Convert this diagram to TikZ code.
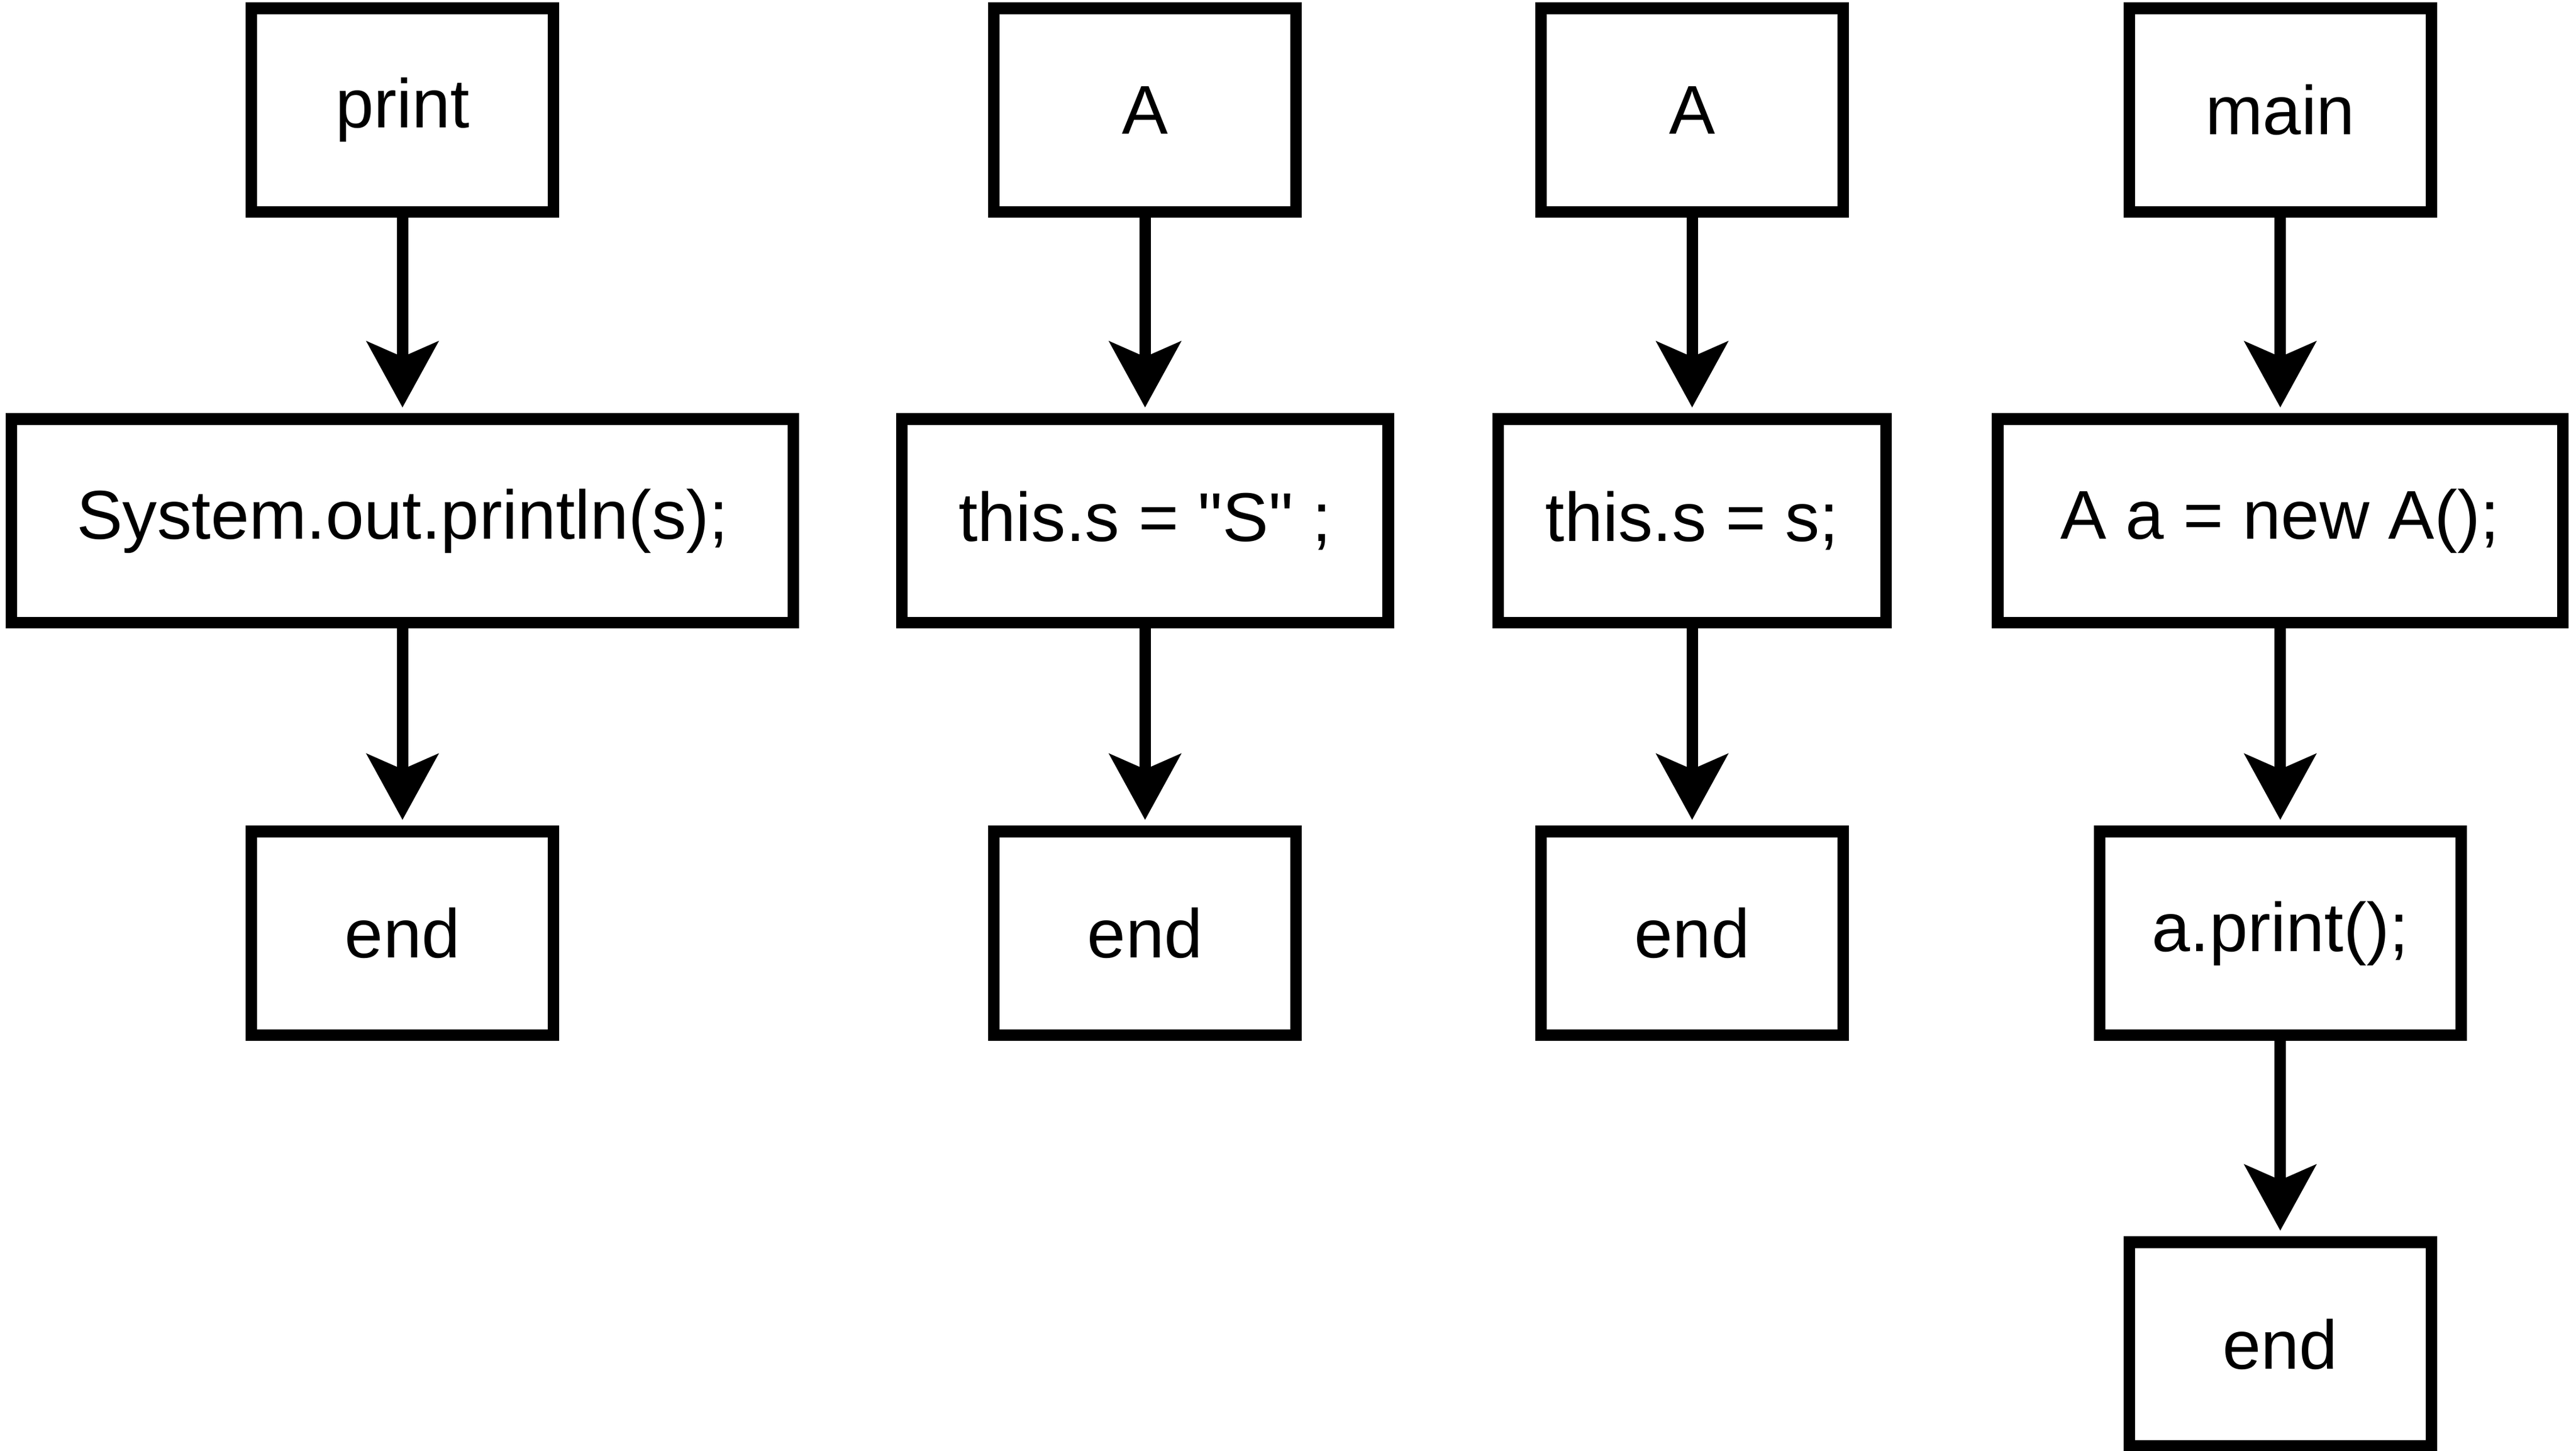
\documentclass[tikz,border=0pt]{standalone}
\usepackage{fontspec}
\setmainfont{Liberation Sans}[Ligatures=TeXOff]
\usetikzlibrary{arrows.meta}

\begin{document}
\begin{tikzpicture}[x=0.25pt, y=-0.25pt,
    block/.style={draw, line width=1.75pt, minimum height=31pt, inner sep=0pt,
        font=\fontsize{10.5}{12}\selectfont},
    flow/.style={-{Stealth[length=10pt, width=10.8pt, inset=2.3pt]},
        line width=1.75pt, shorten >=0.875pt}]
\useasboundingbox (0, 0) rectangle (1568, 883);

% Draw method print.
\node[block, minimum width=46pt] (print) at (245, 67) {print};
\node[block, minimum width=119pt] (sysout) at (245, 317) {System.out.println(s);};
\node[block, minimum width=46pt] (endprint) at (245, 568) {end};

% Draw constructor A().
\node[block, minimum width=46pt] (ctorA) at (697, 67) {A};
\node[block, minimum width=74pt] (setS) at (697, 317) {this.s = "S" ;};
\node[block, minimum width=46pt] (endA) at (697, 568) {end};

% Draw constructor A(s).
\node[block, minimum width=46pt] (ctorAs) at (1030, 67) {A};
\node[block, minimum width=59pt] (sets) at (1030, 317) {this.s = s;};
\node[block, minimum width=46pt] (endAs) at (1030, 568) {end};

% Draw method main.
\node[block, minimum width=46pt] (main) at (1388, 67) {main};
\node[block, minimum width=86pt] (newA) at (1388, 317) {A a = new A();};
\node[block, minimum width=55pt] (callprint) at (1388, 568) {a.print();};
\node[block, minimum width=46pt] (endmain) at (1388, 818) {end};

% Draw control flow.
\foreach \a/\b in {print/sysout, sysout/endprint, ctorA/setS, setS/endA,
    ctorAs/sets, sets/endAs, main/newA, newA/callprint, callprint/endmain}
    \draw[flow] (\a) -- (\b);

\end{tikzpicture}
\end{document}
